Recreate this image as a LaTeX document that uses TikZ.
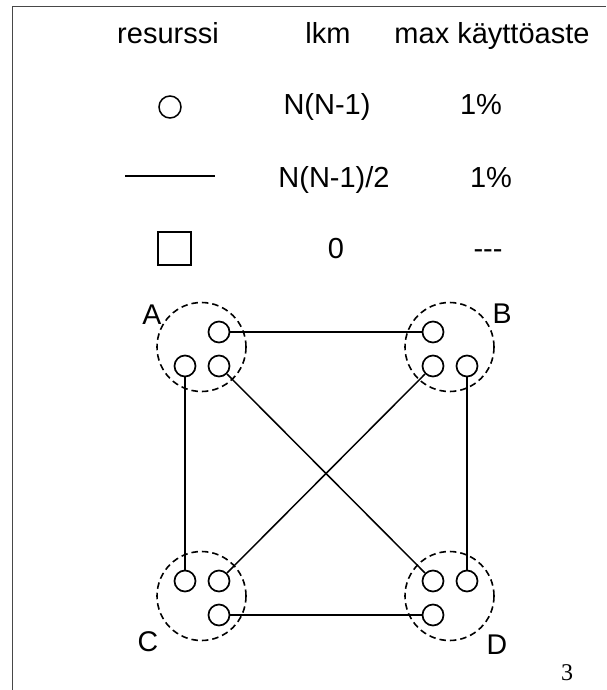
\documentclass[tikz,border=0pt]{standalone}
\usepackage{fontspec}
\setmainfont{Liberation Sans}
\newfontfamily\serifnum{Liberation Serif}
\begin{document}
\begin{tikzpicture}[x=1pt,y=-1pt,
  txt/.style={anchor=base,inner sep=0pt,font=\fontsize{29}{34}\selectfont},
  lbl/.style={inner sep=0pt,font=\fontsize{28.5}{33}\selectfont},
  port/.style={circle,draw,line width=1.7pt,minimum size=21pt,inner sep=0pt},
  group/.style={circle,draw,dash pattern=on 6.5pt off 4pt,line width=1.6pt,minimum size=89pt,inner sep=0pt},
  link/.style={line width=1.5pt}]
\useasboundingbox (0,0) rectangle (606,690);
% frame
\coordinate (f1) at (12.5,690);
\coordinate (f2) at (12.5,6.5);
\coordinate (f3) at (606,6.5);
\draw[line width=1.5pt,color=black!72] (f1) -- (f2) -- (f3);
% header
\node[txt] (h1) at (168,44) {resurssi};
\node[txt] (h2) at (328,44) {lkm};
\node[txt] (h3) at (492,44) {max käyttöaste};
% row 1
\node[circle,draw,line width=1.5pt,minimum size=22pt,inner sep=0pt] (r1s) at (170,107) {};
\node[txt] (r1a) at (327,114) {N(N-1)};
\node[txt] (r1b) at (481,114) {1\%};
% row 2
\coordinate (r2l) at (125,176);
\coordinate (r2r) at (215,176);
\draw[line width=1.5pt] (r2l) -- (r2r);
\node[txt] (r2a) at (334,187) {N(N-1)/2};
\node[txt] (r2b) at (491,187) {1\%};
% row 3
\node[rectangle,draw,line width=1.5pt,minimum size=33pt,inner sep=0pt] (r3s) at (174.5,248.5) {};
\node[txt] (r3a) at (336,258) {0};
\node[txt] (r3b) at (488,258) {-{}-{}-};
% groups
\node[group] (GA) at (201.5,347) {};
\node[group] (GB) at (449.5,347) {};
\node[group] (GC) at (201.5,596) {};
\node[group] (GD) at (449.5,596) {};
\node[lbl] (LA) at (152,315) {A};
\node[lbl] (LB) at (502,314) {B};
\node[lbl] (LC) at (148,642) {C};
\node[lbl] (LD) at (497,645) {D};
% ports
\node[port] (a1) at (219,332) {};
\node[port] (a2) at (185,366) {};
\node[port] (a3) at (219,366) {};
\node[port] (b1) at (433,332) {};
\node[port] (b2) at (433,366) {};
\node[port] (b3) at (467,366) {};
\node[port] (c1) at (185,581) {};
\node[port] (c2) at (219,581) {};
\node[port] (c3) at (219,615) {};
\node[port] (d1) at (433,581) {};
\node[port] (d2) at (467,581) {};
\node[port] (d3) at (433,615) {};
% links
\draw[link] (a1) -- (b1);
\draw[link] (a2) -- (c1);
\draw[link] (a3) -- (d1);
\draw[link] (b2) -- (c2);
\draw[link] (b3) -- (d2);
\draw[link] (c3) -- (d3);
% page number
\node[inner sep=0pt,font=\serifnum\fontsize{24}{28}\selectfont] (pn) at (567,673) {3};
\end{tikzpicture}
\end{document}
